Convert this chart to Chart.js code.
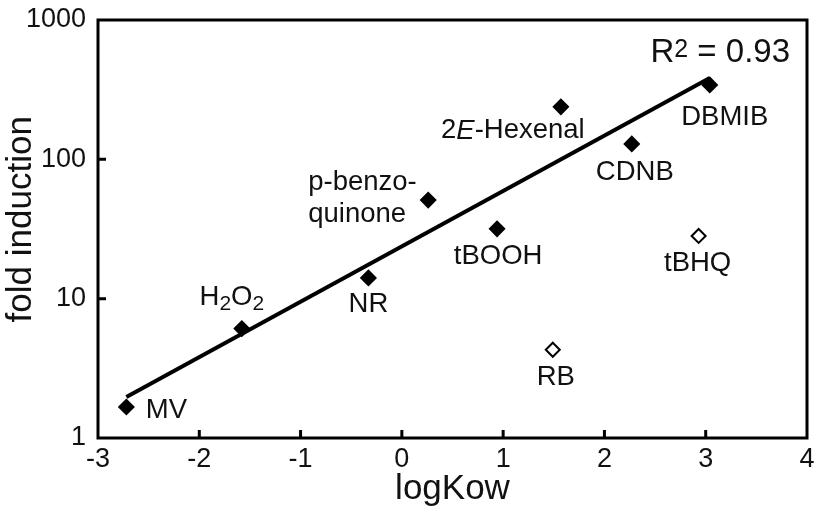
<!DOCTYPE html>
<html>
<head>
<meta charset="utf-8">
<script src="https://cdn.jsdelivr.net/npm/chart.js@4.4.1/dist/chart.umd.min.js"></script>
<style>
  html, body { margin: 0; padding: 0; background: #fff; }
  canvas { display: block; }
</style>
</head>
<body>
<canvas id="chartKow" width="817" height="513"></canvas>
<script>
// ============================================
// Data
// ============================================
const compounds = ['MV', 'H2O2', 'NR', 'p-benzoquinone', 'tBOOH', '2E-Hexenal', 'CDNB', 'DBMIB'];
const logKow = [-2.72, -1.58, -0.33, 0.26, 0.94, 1.57, 2.27, 3.04];
const foldInduction = [1.67, 6.1, 14.1, 51, 31.7, 238, 129, 342];

// compounds left out of the fit (open diamonds)
const outliers = ['RB', 'tBHQ'];
const outlierLogKow = [1.49, 2.93];
const outlierFold = [4.3, 28.2];

// regression line end points
const fitLogKow = [-2.72, 3.04];
const fitFold = [1.97, 384];

const xTicks = [-3, -2, -1, 0, 1, 2, 3, 4];
const yTicks = [1, 10, 100, 1000];
const rSquared = '0.93';

// ============================================
// Label text (parts: text, kind) and placement
// ============================================
const FONT = '"Liberation Sans", Arial, Helvetica, sans-serif';

const labelParts = {
  'MV': [['MV', 'n']],
  'H2O2': [['H', 'n'], ['2', 'sub'], ['O', 'n'], ['2', 'sub']],
  'NR': [['NR', 'n']],
  'tBOOH': [['tBOOH', 'n']],
  '2E-Hexenal': [['2', 'n'], ['E', 'i'], ['-Hexenal', 'n']],
  'CDNB': [['CDNB', 'n']],
  'DBMIB': [['DBMIB', 'n']],
  'RB': [['RB', 'n']],
  'tBHQ': [['tBHQ', 'n']]
};
// offsets (px) of the label centre from its marker
const labelOffsets = {
  'MV': [40, 3],
  'H2O2': [-10, -31],
  'NR': [0, 27],
  'tBOOH': [1, 28],
  '2E-Hexenal': [-48, 24],
  'CDNB': [3, 28],
  'DBMIB': [15, 32],
  'RB': [3, 28],
  'tBHQ': [-1, 27]
};

function fontFor(kind, size) {
  if (kind === 'sub' || kind === 'sup') return Math.round(size * 0.75) + 'px ' + FONT;
  if (kind === 'i') return 'italic ' + size + 'px ' + FONT;
  return size + 'px ' + FONT;
}

function drawRich(ctx, parts, x, y, size) {
  const widths = parts.map(p => { ctx.font = fontFor(p[1], size); return ctx.measureText(p[0]).width; });
  const total = widths.reduce((a, b) => a + b, 0);
  let cx = x - total / 2;
  parts.forEach((p, i) => {
    ctx.font = fontFor(p[1], size);
    let dy = 0;
    if (p[1] === 'sub') dy = size * 0.25;
    if (p[1] === 'sup') dy = -size * 0.16;
    ctx.fillText(p[0], cx, y + dy);
    cx += widths[i];
  });
}

// frame + inward tick marks
const framePlugin = {
  id: 'frame',
  beforeDatasetsDraw(chart) {
    const { ctx, chartArea: a, scales } = chart;
    ctx.save();
    ctx.strokeStyle = '#000';
    ctx.lineWidth = 3;
    ctx.strokeRect(a.left, a.top, a.right - a.left, a.bottom - a.top);
    ctx.beginPath();
    xTicks.slice(1, -1).forEach(v => {
      const px = scales.x.getPixelForValue(v);
      ctx.moveTo(px, a.bottom);
      ctx.lineTo(px, a.bottom - 8);
    });
    yTicks.slice(1, -1).forEach(v => {
      const py = scales.y.getPixelForValue(v);
      ctx.moveTo(a.left, py);
      ctx.lineTo(a.left + 8, py);
    });
    ctx.stroke();
    ctx.restore();
  }
};

// compound names and R2
const labelPlugin = {
  id: 'labels',
  afterDatasetsDraw(chart) {
    const { ctx, chartArea: a, scales } = chart;
    const size = 27.5;
    ctx.save();
    ctx.fillStyle = '#111';
    ctx.textBaseline = 'middle';
    ctx.textAlign = 'left';

    const names = compounds.concat(outliers);
    const xs = logKow.concat(outlierLogKow);
    const ys = foldInduction.concat(outlierFold);
    names.forEach((name, i) => {
      const px = scales.x.getPixelForValue(xs[i]);
      const py = scales.y.getPixelForValue(ys[i]);
      if (name === 'p-benzoquinone') {
        ctx.font = size + 'px ' + FONT;
        ctx.fillText('p-benzo-', px - 120, py - 18);
        ctx.fillText('quinone', px - 120, py + 14);
        return;
      }
      const off = labelOffsets[name];
      drawRich(ctx, labelParts[name], px + off[0], py + off[1], size);
    });

    // R2 = 0.93
    ctx.textBaseline = 'alphabetic';
    const rs = 33;
    const parts = [['R', 'n'], ['2', 'sup'], [' = ' + rSquared, 'n']];
    const widths = parts.map(p => { ctx.font = fontFor(p[1], rs); return ctx.measureText(p[0]).width; });
    const total = widths.reduce((s, w) => s + w, 0);
    drawRich(ctx, parts, a.right - 17 - total / 2, a.top + 42, rs);
    ctx.restore();
  }
};

// ============================================
// Chart
// ============================================
const ctx = document.getElementById('chartKow').getContext('2d');

new Chart(ctx, {
  type: 'scatter',
  data: {
    datasets: [
      {
        label: 'fit compounds',
        data: logKow.map((x, i) => ({ x: x, y: foldInduction[i] })),
        pointStyle: 'rectRot',
        pointRadius: 7.5,
        backgroundColor: '#000',
        borderColor: '#000',
        borderWidth: 1.5
      },
      {
        label: 'other compounds',
        data: outlierLogKow.map((x, i) => ({ x: x, y: outlierFold[i] })),
        pointStyle: 'rectRot',
        pointRadius: 7,
        backgroundColor: '#fff',
        borderColor: '#000',
        borderWidth: 2
      },
      {
        label: 'regression',
        type: 'line',
        data: fitLogKow.map((x, i) => ({ x: x, y: fitFold[i] })),
        borderColor: '#000',
        borderWidth: 4,
        pointRadius: 0,
        fill: false
      }
    ]
  },
  options: {
    responsive: false,
    animation: false,
    devicePixelRatio: 1,
    layout: { padding: { left: 0, right: 10, top: 20, bottom: 0 } },
    plugins: {
      legend: { display: false },
      tooltip: { enabled: false }
    },
    scales: {
      x: {
        type: 'linear',
        min: -3,
        max: 4,
        afterBuildTicks: s => { s.ticks = xTicks.map(v => ({ value: v })); },
        afterFit: s => { s.height = 75; s.paddingLeft = 0; s.paddingRight = 0; },
        grid: { display: false, drawTicks: false },
        border: { display: false },
        ticks: {
          color: '#111',
          font: { family: FONT, size: 27, lineHeight: 1 },
          padding: 8,
          maxRotation: 0,
          callback: v => String(v)
        },
        title: {
          display: true,
          text: 'logKow',
          color: '#111',
          font: { family: FONT, size: 35, lineHeight: 1 },
          padding: { top: 0, bottom: 6 }
        }
      },
      y: {
        type: 'logarithmic',
        min: 1,
        max: 1000,
        afterBuildTicks: s => { s.ticks = yTicks.map(v => ({ value: v })); },
        afterFit: s => { s.width = 98; s.paddingTop = 0; s.paddingBottom = 0; },
        grid: { display: false, drawTicks: false },
        border: { display: false },
        ticks: {
          color: '#111',
          font: { family: FONT, size: 27, lineHeight: 1 },
          padding: 12,
          callback: v => String(v)
        },
        title: {
          display: true,
          text: '  fold induction',
          color: '#111',
          font: { family: FONT, size: 35, lineHeight: 1 },
          padding: { top: 4, bottom: 0 }
        }
      }
    }
  },
  plugins: [framePlugin, labelPlugin]
});
</script>
</body>
</html>
